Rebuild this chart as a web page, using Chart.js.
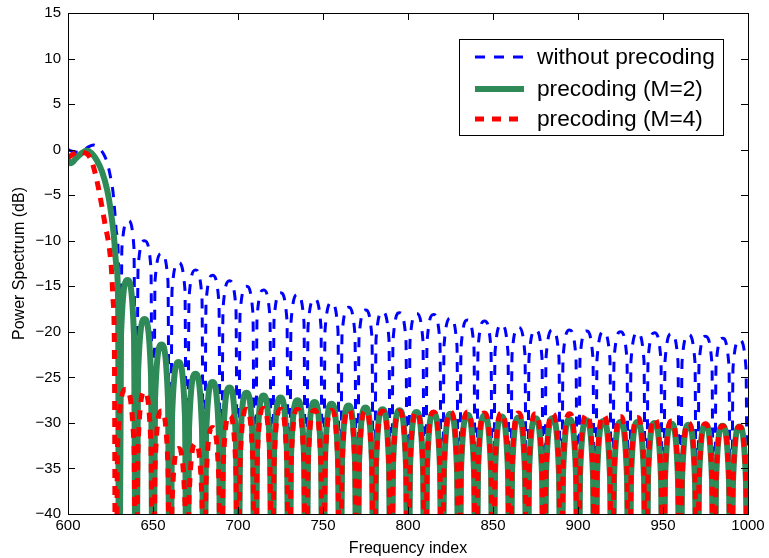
<!DOCTYPE html>
<html>
<head>
<meta charset="utf-8">
<script src="https://cdn.jsdelivr.net/npm/chart.js@4.4.1/dist/chart.umd.min.js"></script>
<style>
    html, body { margin: 0; padding: 0; background: #fff; }
    #wrap { width: 769px; height: 558px; }
</style>
</head>
<body>
<div id="wrap"><canvas id="psdChart" width="769" height="558"></canvas></div>
<script>
// frequency index of each sample, sidelobe region (shared by all three curves)
const sideIdx = [
    640, 641.2, 645, 648.8, 650, 651.2, 655, 658.8, 660, 661.2, 665, 668.8,
    670, 671.2, 675, 678.8, 680, 681.2, 685, 688.8, 690, 691.2, 695, 698.8,
    700, 701.2, 705, 708.8, 710, 711.2, 715, 718.8, 720, 721.2, 725, 728.8,
    730, 731.2, 735, 738.8, 740, 741.2, 745, 748.8, 750, 751.2, 755, 758.8,
    760, 761.2, 765, 768.8, 770, 771.2, 775, 778.8, 780, 781.2, 785, 788.8,
    790, 791.2, 795, 798.8, 800, 801.2, 805, 808.8, 810, 811.2, 815, 818.8,
    820, 821.2, 825, 828.8, 830, 831.2, 835, 838.8, 840, 841.2, 845, 848.8,
    850, 851.2, 855, 858.8, 860, 861.2, 865, 868.8, 870, 871.2, 875, 878.8,
    880, 881.2, 885, 888.8, 890, 891.2, 895, 898.8, 900, 901.2, 905, 908.8,
    910, 911.2, 915, 918.8, 920, 921.2, 925, 928.8, 930, 931.2, 935, 938.8,
    940, 941.2, 945, 948.8, 950, 951.2, 955, 958.8, 960, 961.2, 965, 968.8,
    970, 971.2, 975, 978.8, 980, 981.2, 985, 988.8, 990, 991.2, 995, 998.8,
    1000
];

// without precoding
const noPrecIdx = [600, 603, 606, 609, 612, 615, 618, 621, 623, 625, 626.5, 627.6, 628.6, 629.6, 630.5, 631.7, 635.5, 638.8];
const noPrecMain = [0.0, -0.2, -0.3, -0.1, 0.3, 0.5, 0.2, -0.5, -1.4, -3.0, -4.7, -7.0, -9.2, -11.8, -60, -10.8, -7.8, -10.8];
const noPrecSide = [
    -60, -13.0, -10.0, -13.0, -60, -14.4, -11.4, -14.4, -60, -15.4, -12.4, -15.4,
    -60, -16.2, -13.2, -16.2, -60, -16.8, -13.8, -16.8, -60, -17.4, -14.4, -17.4,
    -60, -18.0, -15.0, -18.0, -60, -18.4, -15.4, -18.4, -60, -18.7, -15.7, -18.7,
    -60, -18.9, -15.9, -18.9, -60, -19.4, -16.4, -19.4, -60, -19.8, -16.8, -19.8,
    -60, -20.3, -17.3, -20.3, -60, -20.6, -17.6, -20.6, -60, -20.8, -17.8, -20.8,
    -60, -20.9, -17.9, -20.9, -60, -21.0, -18.0, -21.0, -60, -21.1, -18.1, -21.1,
    -60, -21.5, -18.5, -21.5, -60, -21.7, -18.7, -21.7, -60, -21.8, -18.8, -21.8,
    -60, -22.2, -19.2, -22.2, -60, -22.5, -19.5, -22.5, -60, -22.8, -19.8, -22.8,
    -60, -22.8, -19.8, -22.8, -60, -22.8, -19.8, -22.8, -60, -22.9, -19.9, -22.9,
    -60, -23.0, -20.0, -23.0, -60, -23.0, -20.0, -23.0, -60, -23.1, -20.1, -23.1,
    -60, -23.1, -20.1, -23.1, -60, -23.2, -20.2, -23.2, -60, -23.3, -20.3, -23.3,
    -60, -23.5, -20.5, -23.5, -60, -23.7, -20.7, -23.7, -60, -23.9, -20.9, -23.9,
    -60
];

// precoding M=2
const m2Idx = [600, 601.5, 605, 608, 611, 614, 617, 620, 623, 625, 627, 628.5, 629.5, 630, 631.2, 635, 638.8];
const m2Main = [-1.2, -1.5, -0.9, -0.4, -0.1, -0.4, -1.2, -2.4, -4.4, -6.5, -9.5, -12.8, -17.0, -60, -20.3, -14.3, -20.3];
const m2Side = [
    -60, -24.6, -18.6, -24.6, -60, -27.4, -21.4, -27.4, -60, -29.3, -23.3, -29.3,
    -60, -30.6, -24.6, -30.6, -60, -31.5, -25.5, -31.5, -60, -32.1, -26.1, -32.1,
    -60, -32.7, -26.7, -32.7, -60, -33.0, -27.0, -33.0, -60, -33.2, -27.2, -33.2,
    -60, -33.5, -27.5, -33.5, -60, -33.7, -27.7, -33.7, -60, -33.9, -27.9, -33.9,
    -60, -34.1, -28.1, -34.1, -60, -34.3, -28.3, -34.3, -60, -34.5, -28.5, -34.5,
    -60, -34.6, -28.6, -34.6, -60, -34.8, -28.8, -34.8, -60, -34.9, -28.9, -34.9,
    -60, -35.0, -29.0, -35.0, -60, -35.1, -29.1, -35.1, -60, -35.2, -29.2, -35.2,
    -60, -35.3, -29.3, -35.3, -60, -35.4, -29.4, -35.4, -60, -35.5, -29.5, -35.5,
    -60, -35.5, -29.5, -35.5, -60, -35.6, -29.6, -35.6, -60, -35.7, -29.7, -35.7,
    -60, -35.8, -29.8, -35.8, -60, -35.9, -29.9, -35.9, -60, -35.9, -29.9, -35.9,
    -60, -36.0, -30.0, -36.0, -60, -36.1, -30.1, -36.1, -60, -36.2, -30.2, -36.2,
    -60, -36.2, -30.2, -36.2, -60, -36.3, -30.3, -36.3, -60, -36.4, -30.4, -36.4,
    -60
];

// precoding M=4
const m4Idx = [600, 603, 606, 609, 612, 614, 616, 618, 620, 622, 624, 625.5, 626.5, 627.3, 628, 629.2, 634, 638.8];
const m4Main = [-0.9, -0.5, -0.2, -0.3, -0.6, -1.3, -2.6, -4.3, -6.3, -8.4, -10.4, -13.0, -16.5, -22.0, -60, -32.3, -26.3, -32.3];
const m4Side = [
    -60, -32.6, -26.6, -32.6, -60, -34.7, -28.7, -34.7, -60, -38.8, -32.8, -38.8,
    -60, -38.3, -32.3, -38.3, -60, -36.5, -30.5, -36.5, -60, -35.2, -29.2, -35.2,
    -60, -34.5, -28.5, -34.5, -60, -34.4, -28.4, -34.4, -60, -34.5, -28.5, -34.5,
    -60, -34.5, -28.5, -34.5, -60, -34.6, -28.6, -34.6, -60, -34.6, -28.6, -34.6,
    -60, -34.6, -28.6, -34.6, -60, -34.7, -28.7, -34.7, -60, -34.7, -28.7, -34.7,
    -60, -34.7, -28.7, -34.7, -60, -34.8, -28.8, -34.8, -60, -34.8, -28.8, -34.8,
    -60, -34.8, -28.8, -34.8, -60, -34.8, -28.8, -34.8, -60, -34.9, -28.9, -34.9,
    -60, -34.9, -28.9, -34.9, -60, -34.9, -28.9, -34.9, -60, -35.0, -29.0, -35.0,
    -60, -35.0, -29.0, -35.0, -60, -35.0, -29.0, -35.0, -60, -35.1, -29.1, -35.1,
    -60, -35.2, -29.2, -35.2, -60, -35.3, -29.3, -35.3, -60, -35.4, -29.4, -35.4,
    -60, -35.6, -29.6, -35.6, -60, -35.8, -29.8, -35.8, -60, -36.0, -30.0, -36.0,
    -60, -36.1, -30.1, -36.1, -60, -36.3, -30.3, -36.3, -60, -36.4, -30.4, -36.4,
    -60
];

const xTicks = [600, 650, 700, 750, 800, 850, 900, 950, 1000];
const yTicks = [-40, -35, -30, -25, -20, -15, -10, -5, 0, 5, 10, 15];

const legendLabels = ['without precoding', 'precoding (M=2)', 'precoding (M=4)'];

const toPoints = (xs, ys) => xs.map((x, i) => ({ x: x, y: ys[i] }));

const FONT = '"Liberation Sans", Arial, Helvetica, sans-serif';
const BLUE = '#0000ff';
const GREEN = '#2e8b57';
const RED = '#ff0000';

// MATLAB-like box with inward ticks, drawn over the curves
const axesBox = {
    id: 'axesBox',
    afterDatasetsDraw(chart) {
        const { ctx, chartArea: a, scales } = chart;
        const len = 7;
        ctx.save();
        ctx.strokeStyle = '#000';
        ctx.lineWidth = 1;
        ctx.beginPath();
        xTicks.forEach((v) => {
            const px = Math.round(scales.x.getPixelForValue(v)) + 0.5;
            ctx.moveTo(px, a.bottom); ctx.lineTo(px, a.bottom - len);
            ctx.moveTo(px, a.top); ctx.lineTo(px, a.top + len);
        });
        yTicks.forEach((v) => {
            const py = Math.round(scales.y.getPixelForValue(v)) + 0.5;
            ctx.moveTo(a.left, py); ctx.lineTo(a.left + len, py);
            ctx.moveTo(a.right, py); ctx.lineTo(a.right - len, py);
        });
        ctx.stroke();
        ctx.strokeRect(Math.round(a.left) + 0.5, Math.round(a.top) + 0.5,
            Math.round(a.right - a.left), Math.round(a.bottom - a.top));
        ctx.restore();
    },
};

// legend box inside the plot, top right
const insideLegend = {
    id: 'insideLegend',
    afterDraw(chart) {
        const { ctx } = chart;
        const box = { x: 459.5, y: 39.5, w: 264, h: 96 };
        const rows = [
            { y: 57, color: BLUE, width: 3, dash: [10, 9] },
            { y: 89, color: GREEN, width: 6, dash: [] },
            { y: 119, color: RED, width: 5, dash: [9, 8] },
        ];
        ctx.save();
        ctx.fillStyle = '#fff';
        ctx.fillRect(box.x, box.y, box.w, box.h);
        ctx.strokeStyle = '#000';
        ctx.lineWidth = 1;
        ctx.strokeRect(box.x, box.y, box.w, box.h);
        rows.forEach((r, i) => {
            ctx.beginPath();
            ctx.setLineDash(r.dash);
            ctx.lineCap = 'butt';
            ctx.strokeStyle = r.color;
            ctx.lineWidth = r.width;
            ctx.moveTo(475, r.y);
            ctx.lineTo(524, r.y);
            ctx.stroke();
            ctx.setLineDash([]);
            ctx.fillStyle = '#000';
            ctx.font = '22.7px ' + FONT;
            ctx.textBaseline = 'middle';
            ctx.textAlign = 'left';
            ctx.fillText(legendLabels[i], 537, r.y + 1);
        });
        ctx.restore();
    },
};

const series = (label, xs, ys, color, width, dash, order) => ({
    label: label,
    data: toPoints(xs, ys),
    borderColor: color,
    backgroundColor: color,
    borderWidth: width,
    borderDash: dash,
    borderCapStyle: 'butt',
    borderJoinStyle: 'round',
    pointRadius: 0,
    pointHoverRadius: 0,
    cubicInterpolationMode: 'monotone',
    fill: false,
    clip: 0,
    order: order,
});

new Chart(document.getElementById('psdChart'), {
    type: 'line',
    data: {
        datasets: [
            series(legendLabels[0], noPrecIdx.concat(sideIdx), noPrecMain.concat(noPrecSide), BLUE, 3, [10, 9], 3),
            series(legendLabels[1], m2Idx.concat(sideIdx), m2Main.concat(m2Side), GREEN, 6, [], 2),
            series(legendLabels[2], m4Idx.concat(sideIdx), m4Main.concat(m4Side), RED, 5, [9, 8], 1),
        ],
    },
    options: {
        responsive: false,
        animation: false,
        devicePixelRatio: 1,
        layout: { padding: { top: 13, right: 21, left: 0, bottom: 0 } },
        plugins: {
            legend: { display: false },
            tooltip: { enabled: false },
        },
        scales: {
            x: {
                type: 'linear',
                min: 600,
                max: 1000,
                afterFit: (s) => { s.height = 44; s.paddingLeft = 0; s.paddingRight = 0; },
                afterBuildTicks: (s) => { s.ticks = xTicks.map((v) => ({ value: v })); },
                grid: { display: false, drawTicks: false, tickLength: 0 },
                border: { display: false },
                ticks: {
                    color: '#000',
                    font: { family: FONT, size: 15 },
                    padding: 3,
                    maxRotation: 0,
                    callback: (v) => String(v),
                },
                title: { display: true, text: 'Frequency index', color: '#000', font: { family: FONT, size: 16 }, padding: 0 },
            },
            y: {
                type: 'linear',
                min: -40,
                max: 15,
                afterFit: (s) => { s.width = 68; s.paddingTop = 0; s.paddingBottom = 0; },
                afterBuildTicks: (s) => { s.ticks = yTicks.map((v) => ({ value: v })); },
                grid: { display: false, drawTicks: false, tickLength: 0 },
                border: { display: false },
                ticks: {
                    color: '#000',
                    font: { family: FONT, size: 15 },
                    padding: 7,
                    callback: (v) => String(v).replace('-', '\u2212'),
                },
                title: { display: true, text: 'Power Spectrum (dB)', color: '#000', font: { family: FONT, size: 16 }, padding: { top: 10 } },
            },
        },
    },
    plugins: [axesBox, insideLegend],
});
</script>
</body>
</html>
